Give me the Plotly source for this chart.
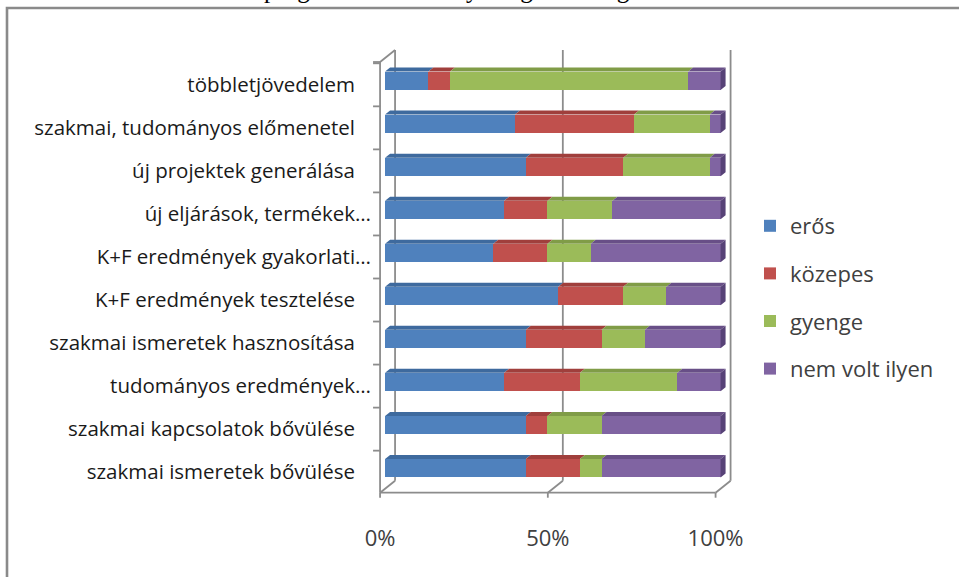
import numpy as np
import plotly.graph_objects as go

# Categories listed bottom to top (Plotly draws the first category at the bottom)
categories = [
    "szakmai ismeretek bővülése",
    "szakmai kapcsolatok bővülése",
    "tudományos eredmények…",
    "szakmai ismeretek hasznosítása",
    "K+F eredmények tesztelése",
    "K+F eredmények gyakorlati…",
    "új eljárások, termékek…",
    "új projektek generálása",
    "szakmai, tudományos előmenetel",
    "többletjövedelem",
]
series_names = ["erős", "közepes", "gyenge", "nem volt ilyen"]

# Number of answers per rating (each row sums to 31 respondents)
eros = [13, 13, 11, 13, 16, 10, 11, 13, 12, 4]
kozepes = [5, 2, 7, 7, 6, 5, 4, 9, 11, 2]
gyenge = [2, 5, 9, 4, 4, 4, 6, 8, 7, 22]
nem_volt = [11, 11, 4, 7, 5, 12, 10, 1, 1, 3]

x_ticks = [0, 50, 100]
x_tick_text = ["0%", "50%", "100%"]

caption = "programok eredményességének megítélése"

front_colors = ["#4F81BD", "#C0504D", "#9BBB59", "#8064A2"]
top_colors = ["#3E6A9E", "#A03F3C", "#809C47", "#684F87"]
side_color = "#574277"
frame_color = "#8C8C8C"

# ---- layout geometry -------------------------------------------------------
W, H = 959, 577
ML, MR, MT, MB = 376, 225, 55, 83
PW, PH = W - ML - MR, H - MT - MB
XR = [-2.7, 104.0]
YR = [-0.6, 9.6]
BAR_W = 0.43

ux = PW / (XR[1] - XR[0])          # pixels per percent
uy = PH / (YR[1] - YR[0])          # pixels per category step

# 3D depth: the bars sit between a front plane and the back wall
DEPTH_X, DEPTH_Y = 15 / ux, 12 / uy
FRONT_DX, FRONT_DY = -DEPTH_X / 3, -DEPTH_Y / 3
BACK_DX, BACK_DY = 2 * DEPTH_X / 3, 2 * DEPTH_Y / 3
TOP_DX, TOP_DY = DEPTH_X / 3, DEPTH_Y / 3


def px_x(v):
    return (v - XR[0]) / (XR[1] - XR[0])


def px_y(v):
    return (v - YR[0]) / (YR[1] - YR[0])


def line(x0, y0, x1, y1, layer="above", width=1.8):
    return dict(type="line", xref="paper", yref="paper",
                x0=px_x(x0), y0=px_y(y0), x1=px_x(x1), y1=px_y(y1),
                line=dict(color=frame_color, width=width), layer=layer)


def poly(points, color):
    d = "M" + " L".join(f"{px_x(a):.5f},{px_y(b):.5f}" for a, b in points) + " Z"
    return dict(type="path", xref="paper", yref="paper", path=d,
                fillcolor=color, line=dict(width=0), layer="above")


values = np.array([eros, kozepes, gyenge, nem_volt], dtype=float)
shares = values / values.sum(axis=0) * 100
cum = np.cumsum(shares, axis=0)
starts = cum - shares

fig = go.Figure()
for i, name in enumerate(series_names):
    fig.add_trace(go.Bar(
        y=list(range(len(categories))), x=values[i], name=name,
        orientation="h", width=BAR_W,
        marker=dict(color=front_colors[i], line=dict(width=0)),
        legendgroup=name,
    ))

shapes = []

# box edges: front floor line, back wall and the left wall
y_floor_front = YR[0] + 0.03
y_top_front = YR[1] - 7 / uy
y_floor_back = y_floor_front + DEPTH_Y
y_top_back = y_top_front + DEPTH_Y
for v in x_ticks:
    shapes.append(line(v + BACK_DX, y_floor_back, v + BACK_DX, y_top_back, layer="below"))
    # floor edges joining front axis and back wall
    shapes.append(line(v + FRONT_DX, y_floor_front, v + BACK_DX, y_floor_back, layer="below"))
    # small tick marks under the front axis
    shapes.append(line(v + FRONT_DX, y_floor_front, v + FRONT_DX, y_floor_front - 5 / uy))

shapes.append(line(FRONT_DX, y_floor_front, 100 + FRONT_DX, y_floor_front))
shapes.append(line(FRONT_DX, y_floor_front, FRONT_DX, y_top_front))
shapes.append(line(FRONT_DX, y_top_front, BACK_DX, y_top_back))
for k in range(len(categories)):
    yb = k + 0.5 + FRONT_DY
    shapes.append(line(FRONT_DX - 7 / ux, yb, FRONT_DX, yb))
shapes.append(line(FRONT_DX - 7 / ux, y_top_front, FRONT_DX, y_top_front))

# top faces of every segment and the end face of each bar
for k in range(len(categories)):
    y_hi = k + BAR_W / 2
    y_lo = k - BAR_W / 2
    for i in range(len(series_names)):
        x0, x1 = starts[i, k], cum[i, k]
        if x1 - x0 <= 0:
            continue
        shapes.append(poly([(x0, y_hi), (x1, y_hi), (x1 + TOP_DX, y_hi + TOP_DY),
                            (x0 + TOP_DX, y_hi + TOP_DY)], top_colors[i]))
    xe = cum[-1, k]
    shapes.append(poly([(xe, y_lo), (xe, y_hi), (xe + TOP_DX, y_hi + TOP_DY),
                        (xe + TOP_DX, y_lo + TOP_DY)], side_color))

# outer frame around the chart (runs off the right and bottom edges)
shapes.append(dict(type="rect", xref="paper", yref="paper",
                   x0=(7 - ML) / PW, x1=(975 - ML) / PW,
                   y0=1 - (590 - MT) / PH, y1=1 - (8 - MT) / PH,
                   line=dict(color="#8A8A8A", width=2.6), fillcolor="rgba(0,0,0,0)",
                   layer="below"))

tick_labels = [c if c.endswith("…") else c + "\u00a0" * 3 for c in categories]

fig.update_layout(
    width=W, height=H,
    margin=dict(l=ML, r=MR, t=MT, b=MB, pad=0),
    paper_bgcolor="white", plot_bgcolor="rgba(0,0,0,0)",
    barmode="stack", barnorm="percent",
    bargap=0.5,
    showlegend=True,
    legend=dict(
        x=(750 - ML) / PW, xanchor="left",
        y=1 - (205 - MT) / PH, yanchor="top",
        traceorder="grouped", tracegroupgap=16,
        font=dict(family="Open Sans", size=22, color="#404040"),
        bgcolor="rgba(0,0,0,0)",
    ),
    xaxis=dict(
        range=XR, tickvals=x_ticks, ticktext=x_tick_text,
        showgrid=False, zeroline=False, showline=False, ticks="",
        ticklabelshift=-5, ticklabelstandoff=29,
        tickfont=dict(family="Open Sans", size=22, color="#404040"),
    ),
    yaxis=dict(
        range=YR, tickvals=list(range(len(categories))), ticktext=tick_labels,
        showgrid=False, zeroline=False, showline=False, ticks="",
        ticklabelshift=4, ticklabelstandoff=4,
        tickfont=dict(family="Open Sans", size=20.5, color="#1A1A1A"),
    ),
    shapes=shapes,
    annotations=[dict(
        text=caption, xref="paper", yref="paper",
        x=(262 - ML) / PW, xanchor="left",
        y=1 - (5 - MT) / PH, yanchor="bottom",
        showarrow=False,
        font=dict(family="Liberation Serif", size=25, color="#000000"),
    )],
)

fig.write_html("out.html")
